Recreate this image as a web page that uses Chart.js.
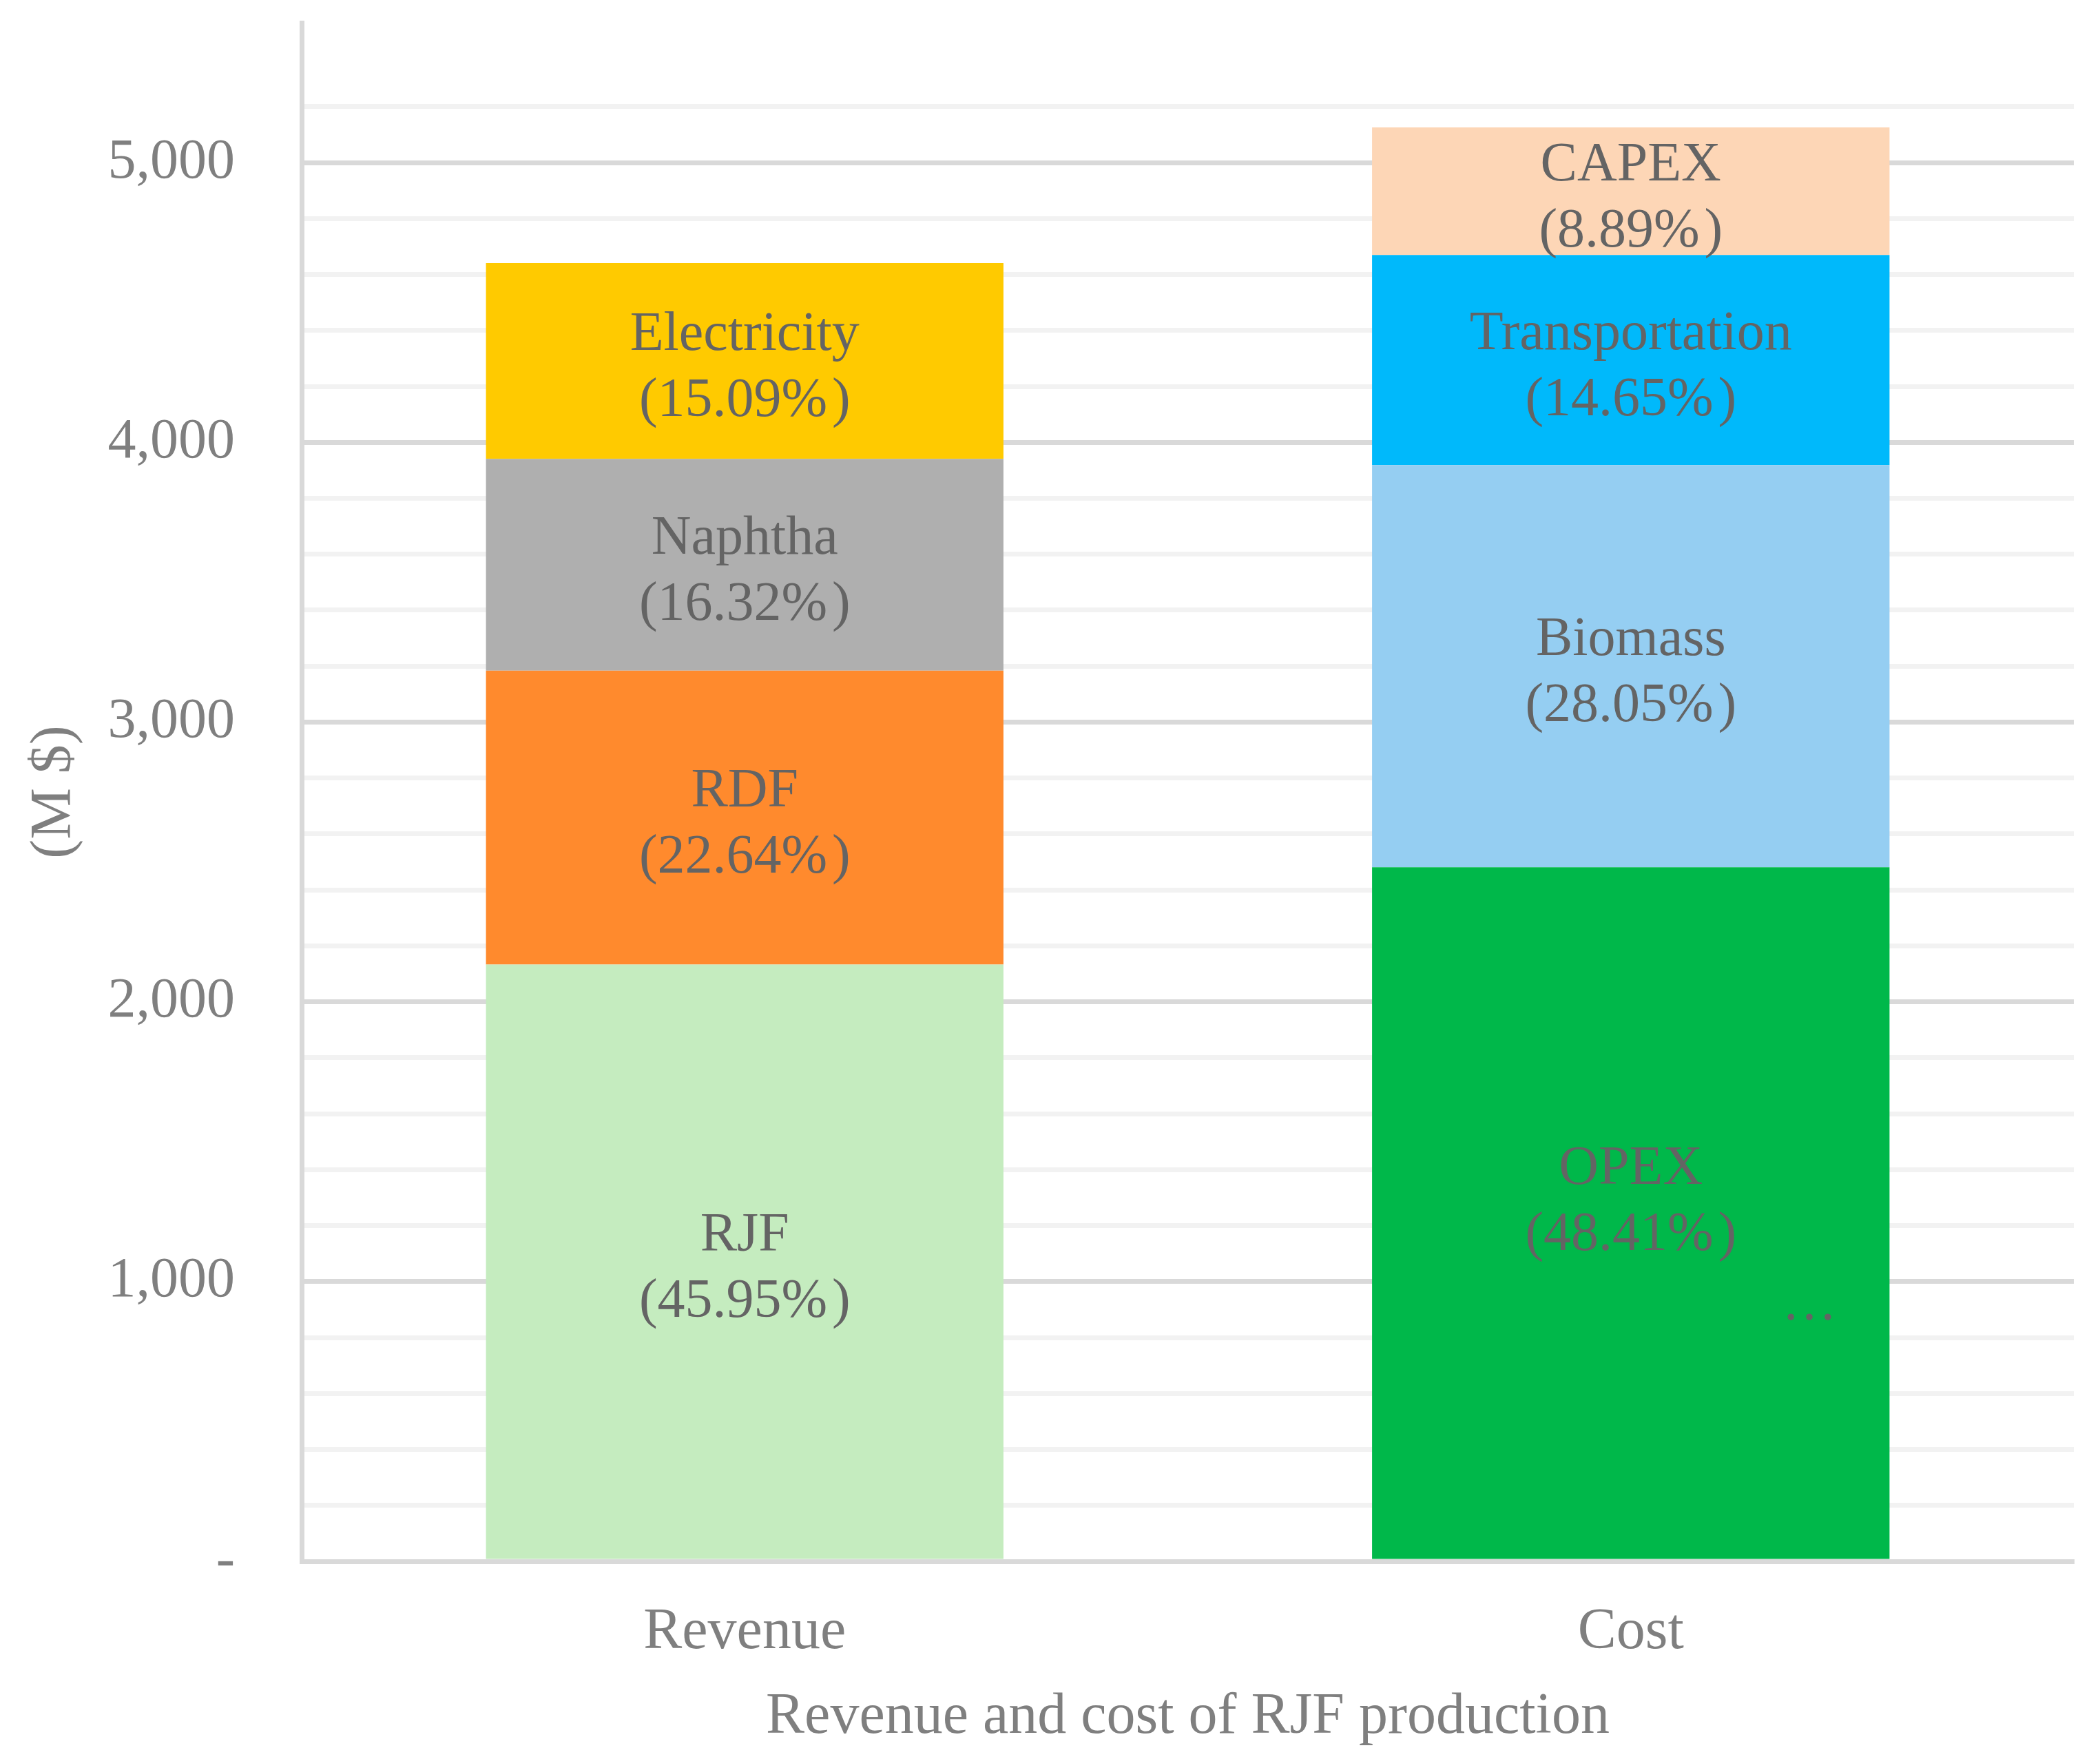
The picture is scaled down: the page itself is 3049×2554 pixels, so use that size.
<!DOCTYPE html>
<html>
<head>
<meta charset="utf-8">
<title>Revenue and cost of RJF production</title>
<script src="https://cdn.jsdelivr.net/npm/chart.js@4.4.1/dist/chart.umd.min.js"></script>
<style>
  html, body { margin: 0; padding: 0; background: #ffffff; }
  canvas { display: block; }
</style>
</head>
<body>
<canvas id="chart" width="3049" height="2554"></canvas>
<script>
// categories on the x axis
const categories = ['Revenue', 'Cost'];

// one stack layer per row: [Revenue part, Cost part], bottom to top (M $)
const layerNames = [
  ['RJF', 'OPEX'],
  ['RDF', 'Biomass'],
  ['Naphtha', 'Transportation'],
  ['Electricity', 'CAPEX']
];
const layerValues = [
  [2133, 2481],
  [1051, 1438],
  [757, 751],
  [700, 456]
];
const layerShares = [
  ['45.95', '48.41'],
  ['22.64', '28.05'],
  ['16.32', '14.65'],
  ['15.09', '8.89']
];
const layerColors = [
  ['#C5ECBF', '#00B84A'],
  ['#FF8A2D', '#95CEF2'],
  ['#AFAFAF', '#00B9FB'],
  ['#FFCA00', '#FDD6B6']
];

// y axis: labelled every 1000, light lines every 200
const yMax = 5500;
const yStep = 200;
const yLabelStep = 1000;

const serif = '"Liberation Serif", "Times New Roman", serif';
const axisGray = '#7F7F7F';
const labelGray = '#646464';

// draws "Name\n(xx.xx% )" in the middle of each segment, plus the stray ellipsis
const segmentLabels = {
  id: 'segmentLabels',
  afterDatasetsDraw(chart) {
    const ctx = chart.ctx;
    ctx.save();
    ctx.font = '80px ' + serif;
    ctx.fillStyle = labelGray;
    ctx.textAlign = 'center';
    ctx.textBaseline = 'middle';
    chart.data.datasets.forEach((ds, di) => {
      chart.getDatasetMeta(di).data.forEach((bar, i) => {
        let mid = (bar.y + bar.base) / 2 + 11;
        // the OPEX label sits a little higher than centre in the original
        if (di === 0 && i === 1) mid -= 26;
        ctx.fillText(layerNames[di][i], bar.x, mid - 48);
        ctx.fillText('(' + layerShares[di][i] + '%\u200A)', bar.x, mid + 48);
      });
    });
    // the "…" left over inside the OPEX segment
    const opex = chart.getDatasetMeta(0).data[1];
    ctx.textBaseline = 'alphabetic';
    ctx.fillText('\u2026', opex.x + opex.width * 0.345, chart.scales.y.getPixelForValue(865));
    ctx.restore();
  }
};

new Chart(document.getElementById('chart'), {
  type: 'bar',
  data: {
    labels: categories,
    datasets: layerValues.map((vals, i) => ({
      label: layerNames[i].join(' / '),
      data: vals,
      backgroundColor: layerColors[i],
      borderWidth: 0,
      barPercentage: 0.584,
      categoryPercentage: 1
    }))
  },
  options: {
    responsive: false,
    devicePixelRatio: 1,
    animation: false,
    layout: { autoPadding: false, padding: { top: 33, right: 38, left: 0, bottom: 0 } },
    plugins: {
      legend: { display: false },
      tooltip: { enabled: false }
    },
    scales: {
      x: {
        stacked: true,
        z: 1,
        afterFit: (scale) => {
          scale.height = 287;
          scale.paddingLeft = 0;
          scale.paddingRight = 0;
        },
        grid: { display: false, drawTicks: false },
        border: { display: true, color: '#D9D9D9', width: 7 },
        ticks: {
          color: axisGray,
          font: { family: serif, size: 84 },
          padding: 54,
          maxRotation: 0
        },
        title: {
          display: true,
          text: 'Revenue and cost of RJF production',
          color: axisGray,
          font: { family: serif, size: 84 },
          padding: { top: 10, bottom: 10 }
        }
      },
      y: {
        stacked: true,
        min: 0,
        max: yMax,
        afterFit: (scale) => {
          scale.width = 438;
          scale.paddingTop = 0;
          scale.paddingBottom = 0;
        },
        grid: {
          drawTicks: false,
          lineWidth: 7,
          color: (c) => {
            const v = c.tick ? c.tick.value : 0;
            if (v >= yMax) return 'rgba(0,0,0,0)';
            return v % yLabelStep === 0 ? '#D9D9D9' : '#F2F2F2';
          }
        },
        border: { display: true, color: '#D9D9D9', width: 7 },
        ticks: {
          stepSize: yStep,
          autoSkip: false,
          color: axisGray,
          font: { family: serif, size: 82 },
          padding: 97,
          callback: (v) => {
            if (v === 0) return '-';
            if (v % yLabelStep === 0 && v < yMax) return v.toLocaleString('en-US');
            return '';
          }
        },
        title: {
          display: true,
          text: '(M $)',
          color: axisGray,
          font: { family: serif, size: 84 },
          padding: { top: 30, bottom: 30 }
        }
      }
    }
  },
  plugins: [segmentLabels]
});
</script>
</body>
</html>
